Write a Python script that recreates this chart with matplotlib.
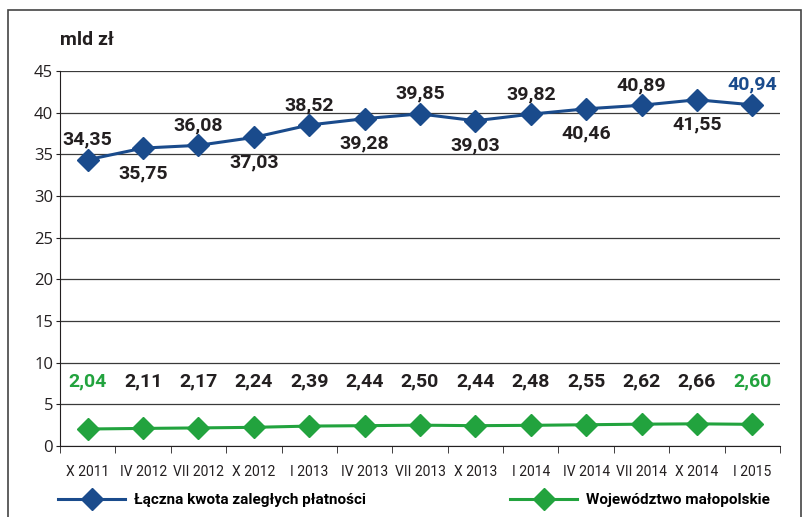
import matplotlib.pyplot as plt
from matplotlib.lines import Line2D
from matplotlib.patches import Rectangle

# data
categories = ['X 2011', 'IV 2012', 'VII 2012', 'X 2012', 'I 2013', 'IV 2013', 'VII 2013',
              'X 2013', 'I 2014', 'IV 2014', 'VII 2014', 'X 2014', 'I 2015']
total = [34.35, 35.75, 36.08, 37.03, 38.52, 39.28, 39.85, 39.03, 39.82, 40.46, 40.89, 41.55, 40.94]
malopolskie = [2.04, 2.11, 2.17, 2.24, 2.39, 2.44, 2.50, 2.44, 2.48, 2.55, 2.62, 2.66, 2.60]
total_name = 'Łączna kwota zaległych płatności'
malo_name = 'Województwo małopolskie'

BLUE = '#1a4b8c'
GREEN = '#22a33e'
DARK = '#231f20'
FONT = ['Roboto', 'DejaVu Sans']

fig = plt.figure(figsize=(8.04, 5.17), dpi=100)
ax = fig.add_axes([60 / 804, 1 - 446 / 517, 720 / 804, 375 / 517])

x = range(len(categories))
ax.plot(x, total, color=BLUE, lw=2.2, marker='D', ms=11, zorder=3)
ax.plot(x, malopolskie, color=GREEN, lw=2.2, marker='D', ms=11, zorder=3)

# value labels
for i, v in enumerate(total):
    up = (i % 2 == 0)
    col = BLUE if i == len(total) - 1 else DARK
    ax.annotate(f'{v:.2f}'.replace('.', ','), (i, v),
                xytext=(0, 20 if up else -25), textcoords='offset pixels',
                ha='center', va='center', fontsize=14, fontweight='bold',
                color=col, family=FONT)
for i, v in enumerate(malopolskie):
    col = GREEN if i in (0, len(malopolskie) - 1) else DARK
    ax.text(i, 7.8, f'{v:.2f}'.replace('.', ','), ha='center', va='center',
            fontsize=14, fontweight='bold', color=col, family=FONT)

ax.set_xlim(-0.5, len(categories) - 0.5)
ax.set_ylim(0, 45)
ax.set_yticks(range(0, 46, 5))
ax.set_xticks(list(x))
ax.set_xticklabels(categories, family=FONT, fontsize=10, color=DARK)
ax.set_xticks([i - 0.5 for i in range(len(categories) + 1)], minor=True)
ax.tick_params(axis='x', which='major', length=0, pad=14)
ax.tick_params(axis='x', which='minor', length=5, color=DARK)
ax.tick_params(axis='y', length=3, color=DARK, labelsize=12, labelcolor=DARK, pad=2)
for lab in ax.get_yticklabels():
    lab.set_family(['Open Sans', 'DejaVu Sans'])

ax.grid(axis='y', color='#3a3a3a', lw=0.9)
ax.set_axisbelow(True)
for s in ['top', 'right']:
    ax.spines[s].set_visible(False)
ax.spines['left'].set_color(DARK)
ax.spines['bottom'].set_color(DARK)

fig.text(60 / 804, 1 - 40 / 517, 'mld zł', fontsize=14, fontweight='bold',
         color=DARK, va='center', family=FONT)

# legend
h1 = Line2D([], [], color=BLUE, lw=2.2, marker='D', ms=11)
h2 = Line2D([], [], color=GREEN, lw=2.2, marker='D', ms=11)
lp = {'family': FONT, 'weight': 'bold', 'size': 11}
fig.legend([h1], [total_name], loc='center left', bbox_to_anchor=(58 / 804, 1 - 500 / 517),
           frameon=False, handlelength=4.4, handletextpad=0.6, borderpad=0, borderaxespad=0, prop=lp)
fig.legend([h2], [malo_name], loc='center left', bbox_to_anchor=(510 / 804, 1 - 500 / 517),
           frameon=False, handlelength=4.4, handletextpad=0.6, borderpad=0, borderaxespad=0, prop=lp)

# outer frame
fig.patches.append(Rectangle((8 / 804, -0.05), 793 / 804, 1.05 - 10 / 517,
                             transform=fig.transFigure, fill=False, ec='#444444', lw=1.2))

fig.savefig('out.png', dpi=100)
